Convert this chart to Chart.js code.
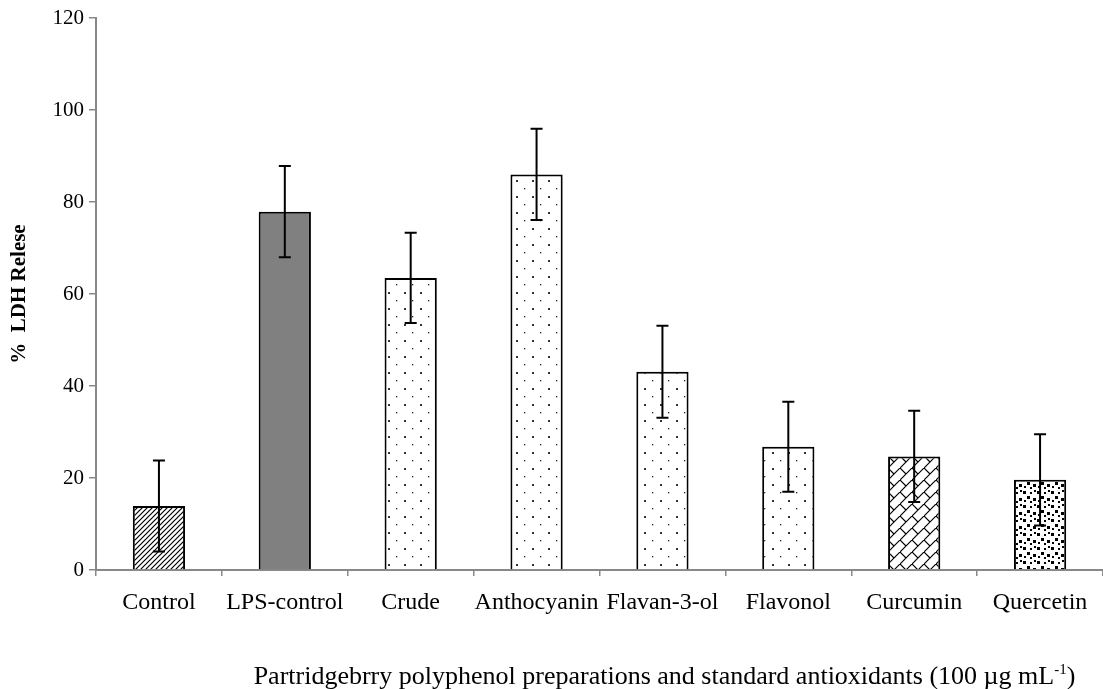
<!DOCTYPE html>
<html>
<head>
<meta charset="utf-8">
<script src="https://cdn.jsdelivr.net/npm/chart.js@4.4.0/dist/chart.umd.min.js"></script>
<style>
  html, body { margin: 0; padding: 0; background: #fff; }
  #wrap { width: 1103px; height: 689px; }
</style>
</head>
<body>
<div id="wrap"><canvas id="chart"></canvas></div>
<script>
// values
const labels = ['Control', 'LPS-control', 'Crude', 'Anthocyanin', 'Flavan-3-ol', 'Flavonol', 'Curcumin', 'Quercetin'];
const ldh = [13.9, 77.9, 63.5, 86.0, 43.1, 26.8, 24.7, 19.6];
const ldhErr = [9.9, 9.9, 9.8, 9.9, 10.0, 9.8, 9.9, 9.9];
const fills = ['hatch', 'gray', 'dots', 'dots', 'dots', 'dots', 'brick', 'confetti'];
const yTicks = [0, 20, 40, 60, 80, 100, 120];

const serif = "'Liberation Serif', 'Times New Roman', serif";

function makePattern(kind) {
  const c = document.createElement('canvas');
  const g = c.getContext('2d');
  if (kind === 'gray') return '#808080';
  if (kind === 'hatch') {
    c.width = 5; c.height = 5;
    g.fillStyle = '#fff'; g.fillRect(0, 0, 5, 5);
    g.strokeStyle = '#000'; g.lineWidth = 1.2;
    g.beginPath();
    g.moveTo(-1, 6); g.lineTo(6, -1);
    g.moveTo(-3, 3); g.lineTo(3, -3);
    g.moveTo(2, 8); g.lineTo(8, 2);
    g.stroke();
  } else if (kind === 'dots') {
    c.width = 16; c.height = 16;
    g.fillStyle = '#fff'; g.fillRect(0, 0, 16, 16);
    g.fillStyle = '#333';
    g.fillRect(4, 4, 2, 2);
    g.fillStyle = '#222';
    g.fillRect(12, 12, 1.3, 1.3);
  } else if (kind === 'brick') {
    c.width = 12; c.height = 12;
    g.fillStyle = '#fff'; g.fillRect(0, 0, 12, 12);
    g.strokeStyle = '#000'; g.lineWidth = 1.2;
    g.beginPath();
    g.moveTo(-1, 13); g.lineTo(13, -1);
    g.moveTo(0, 0); g.lineTo(6, 6);
    g.stroke();
  } else if (kind === 'confetti') {
    c.width = 14; c.height = 14;
    g.fillStyle = '#fff'; g.fillRect(0, 0, 14, 14);
    g.fillStyle = '#000';
    const sq = [[1, 1, 3], [8, 2, 2], [5, 6, 3], [11, 8, 3], [2, 10, 2], [8, 11, 2], [12, 0, 2]];
    sq.forEach(s => g.fillRect(s[0], s[1], s[2], s[2]));
  }
  return g.createPattern(c, 'repeat');
}

const errorBars = {
  id: 'errorBars',
  afterDatasetsDraw(chart) {
    const ctx = chart.ctx;
    const meta = chart.getDatasetMeta(0);
    const y = chart.scales.y;
    ctx.save();
    ctx.strokeStyle = '#000';
    ctx.lineWidth = 2;
    meta.data.forEach((bar, i) => {
      const x = bar.x;
      const hi = y.getPixelForValue(ldh[i] + ldhErr[i]);
      const lo = y.getPixelForValue(ldh[i] - ldhErr[i]);
      ctx.beginPath();
      ctx.moveTo(x, hi); ctx.lineTo(x, lo);
      ctx.moveTo(x - 6, hi); ctx.lineTo(x + 6, hi);
      ctx.moveTo(x - 6, lo); ctx.lineTo(x + 6, lo);
      ctx.stroke();
    });
    ctx.restore();
  }
};

const xTitle = {
  id: 'xTitle',
  afterDraw(chart) {
    const ctx = chart.ctx;
    const a = chart.chartArea;
    const main = 'Partridgebrry polyphenol preparations and standard antioxidants (100 \u00b5g mL';
    const sup = '-1';
    const end = ')';
    ctx.save();
    ctx.fillStyle = '#000';
    ctx.textBaseline = 'alphabetic';
    ctx.font = '26px ' + serif;
    const w1 = ctx.measureText(main).width;
    const w3 = ctx.measureText(end).width;
    ctx.font = '15px ' + serif;
    const w2 = ctx.measureText(sup).width;
    const total = w1 + w2 + w3;
    const cx = (a.left + a.right) / 2 + 65;
    let x = cx - total / 2;
    const base = a.bottom + 114;
    ctx.textAlign = 'left';
    ctx.font = '26px ' + serif;
    ctx.fillText(main, x, base);
    x += w1;
    ctx.font = '15px ' + serif;
    ctx.fillText(sup, x, base - 10);
    x += w2;
    ctx.font = '26px ' + serif;
    ctx.fillText(end, x, base);
    ctx.restore();
  }
};

const ctx = document.getElementById('chart').getContext('2d');
new Chart(ctx, {
  type: 'bar',
  data: {
    labels: labels,
    datasets: [{
      data: ldh,
      backgroundColor: fills.map(makePattern),
      borderColor: '#000',
      borderWidth: 2,
      borderSkipped: 'bottom',
      barPercentage: 0.415,
      categoryPercentage: 1
    }]
  },
  options: {
    responsive: true,
    maintainAspectRatio: false,
    animation: false,
    layout: { padding: { top: 18, right: 0, left: 0, bottom: 0 } },
    plugins: {
      legend: { display: false },
      tooltip: { enabled: false }
    },
    scales: {
      x: {
        grid: { display: true, drawOnChartArea: false, drawTicks: true, tickLength: 6, color: '#888', offset: true, lineWidth: 1.5 },
        border: { display: true, color: '#888', width: 2 },
        ticks: { color: '#000', font: { family: serif, size: 24 }, padding: 12, maxRotation: 0, autoSkip: false },
        afterFit(scale) { scale.height = 119; }
      },
      y: {
        min: 0,
        max: 120,
        afterBuildTicks(scale) { scale.ticks = yTicks.map(v => ({ value: v })); },
        grid: { display: true, drawOnChartArea: false, drawTicks: true, tickLength: 7, color: '#888', lineWidth: 1.5 },
        border: { display: true, color: '#888', width: 2 },
        ticks: { color: '#000', font: { family: serif, size: 21 }, padding: 5 },
        title: { display: true, text: '%  LDH Relese', color: '#000', font: { family: serif, size: 21, weight: 'bold' }, padding: { top: 7, bottom: 0 } },
        afterFit(scale) { scale.width = 96; }
      }
    }
  },
  plugins: [errorBars, xTitle]
});
</script>
</body>
</html>
